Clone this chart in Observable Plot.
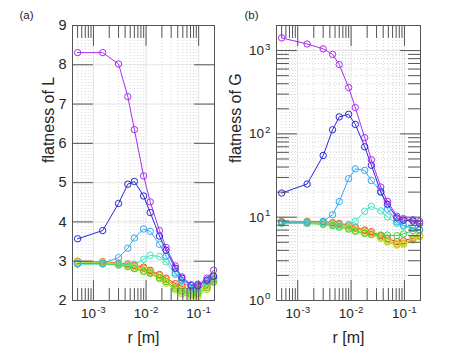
<!DOCTYPE html>
<html><head><meta charset="utf-8">
<script src="https://cdn.jsdelivr.net/npm/d3@7"></script>
<script src="https://cdn.jsdelivr.net/npm/@observablehq/plot@0.6"></script>
<style>
html,body{margin:0;padding:0;background:#fff;}
#wrap{position:relative;width:463px;height:348px;overflow:hidden;}
#wrap svg{position:absolute;left:0;top:0;}
</style>
</head><body><div id="wrap"></div>
<script>
// separation r [m]
const r = [5e-4, 1.5e-3, 3e-3, 4.5e-3, 6e-3, 9e-3, 0.012, 0.018, 0.024, 0.036, 0.048, 0.072, 0.096, 0.144, 0.192];
const seriesNames = ["s1", "s2", "s3", "s4", "s5", "s6", "s7", "s8", "s9"];
const seriesColors = ["#a92df2", "#2727d6", "#33a6f2", "#3de6c2", "#3fd23c", "#a6e01e", "#e8dc1c", "#f6a01e", "#f23c28"];

// panel (a): flatness of L
const L_s1 = [8.31, 8.31, 8.02, 7.19, 6.35, 5.17, 4.51, 3.78, 3.35, 2.88, 2.60, 2.40, 2.41, 2.57, 2.77];
const L_s2 = [3.57, 3.78, 4.47, 4.96, 5.03, 4.66, 4.24, 3.64, 3.28, 2.82, 2.57, 2.38, 2.38, 2.52, 2.62];
const L_s3 = [2.94, 2.95, 3.09, 3.33, 3.59, 3.82, 3.76, 3.43, 3.13, 2.70, 2.52, 2.33, 2.35, 2.49, 2.60];
const L_s4 = [2.93, 2.93, 2.93, 2.91, 2.92, 3.05, 3.15, 3.12, 2.98, 2.66, 2.49, 2.28, 2.30, 2.45, 2.56];
const L_s5 = [2.93, 2.93, 2.90, 2.86, 2.81, 2.74, 2.70, 2.58, 2.48, 2.32, 2.24, 2.16, 2.18, 2.33, 2.48];
const L_s6 = [2.96, 2.95, 2.91, 2.87, 2.82, 2.75, 2.68, 2.55, 2.44, 2.27, 2.17, 2.08, 2.10, 2.28, 2.46];
const L_s7 = [2.98, 2.97, 2.93, 2.89, 2.84, 2.78, 2.71, 2.58, 2.48, 2.31, 2.21, 2.12, 2.14, 2.32, 2.48];
const L_s8 = [2.99, 2.98, 2.94, 2.91, 2.87, 2.82, 2.74, 2.63, 2.53, 2.38, 2.30, 2.20, 2.22, 2.38, 2.52];
const L_s9 = [3.00, 2.99, 2.95, 2.93, 2.90, 2.85, 2.77, 2.66, 2.57, 2.43, 2.36, 2.26, 2.28, 2.42, 2.55];

// panel (b): flatness of G
const G_s1 = [1420, 1200, 1050, 900, 680, 360, 207, 90, 49, 23, 15.5, 10.3, 9.6, 9.3, 8.9];
const G_s2 = [19.5, 25, 55, 112, 160, 172, 130, 70, 42, 20, 14.3, 9.8, 9.2, 9.0, 8.4];
const G_s3 = [8.7, 8.7, 8.9, 10.7, 15.4, 29, 38, 36.5, 27.5, 20.5, 12.5, 8.8, 8.0, 7.3, 7.0];
const G_s4 = [8.4, 8.4, 8.5, 8.2, 8.0, 8.0, 8.9, 11.8, 13.5, 11.9, 10.1, 8.4, 7.8, 7.4, 7.0];
const G_s5 = [8.5, 8.4, 8.2, 7.9, 7.6, 7.2, 6.8, 6.4, 6.2, 6.1, 6.1, 6.0, 6.3, 6.9, 7.1];
const G_s6 = [8.6, 8.5, 8.3, 8.0, 7.8, 7.3, 6.8, 6.4, 6.2, 5.6, 5.1, 4.7, 4.8, 5.4, 5.9];
const G_s7 = [8.7, 8.7, 8.4, 8.2, 8.0, 7.5, 7.0, 6.6, 6.3, 5.6, 5.0, 4.6, 4.7, 5.3, 5.8];
const G_s8 = [8.8, 8.8, 8.6, 8.4, 8.2, 7.8, 7.3, 6.8, 6.5, 5.8, 5.2, 4.8, 4.9, 5.4, 5.9];
const G_s9 = [8.9, 8.9, 8.8, 8.6, 8.4, 8.1, 7.6, 7.0, 6.7, 6.0, 5.5, 5.1, 5.2, 5.6, 6.0];

// tick values
const xMajor = [1e-3, 1e-2, 1e-1];
const xMinor = [5e-4, 6e-4, 7e-4, 8e-4, 9e-4, 2e-3, 3e-3, 4e-3, 5e-3, 6e-3, 7e-3, 8e-3, 9e-3,
  2e-2, 3e-2, 4e-2, 5e-2, 6e-2, 7e-2, 8e-2, 9e-2, 2e-1];
const yMajorL = [2, 3, 4, 5, 6, 7, 8, 9];
const yMajorG = [1, 10, 100, 1000];
const yMinorG = [2,3,4,5,6,7,8,9,20,30,40,50,60,70,80,90,200,300,400,500,600,700,800,900,2000];

const xDomain = [4e-4, 0.2];
const labelA = "flatness of L", labelB = "flatness of G", xLabel = "r [m]";

// lists given red -> purple so purple is drawn last (on top)
function toRows(lists) {
  const names = seriesNames.slice().reverse();
  const rows = [];
  lists.forEach((vals, i) => vals.forEach((v, j) => rows.push({r: r[j], v, s: names[i]})));
  return rows;
}
const rowsL = toRows([L_s9, L_s8, L_s7, L_s6, L_s5, L_s4, L_s3, L_s2, L_s1]);
const rowsG = toRows([G_s9, G_s8, G_s7, G_s6, G_s5, G_s4, G_s3, G_s2, G_s1]);

const tickShape = {draw(ctx, l) { ctx.moveTo(0, 0); ctx.lineTo(0, -l); }};
const FRAME = "#555";
const GRID = "#e2e2e2";
const MINOR = "#d6d6d6";
const FONT = "'Liberation Sans', Arial, Helvetica, sans-serif";

const powFmt = d => "10^" + Math.round(Math.log10(d));

function panel({rows, y, yMajor, yMinor, ml, mr, ylabel, tag, tagDx, yFmt, yFont, yLabelDx}) {
  const [y0, y1] = y.domain;
  const ticks = [];
  const tk = (arr, len, pos) => arr.forEach(v => ticks.push({...pos(v), len}));
  tk(xMajor, 5, v => ({x: v, y: y0, rot: 0}));
  tk(xMinor, 3, v => ({x: v, y: y0, rot: 0}));
  tk(xMajor, 5, v => ({x: v, y: y1, rot: 180}));
  tk(xMinor, 3, v => ({x: v, y: y1, rot: 180}));
  tk(yMajor, 5, v => ({x: xDomain[0], y: v, rot: 90}));
  tk(yMajor, 5, v => ({x: xDomain[1], y: v, rot: -90}));
  if (yMinor) {
    tk(yMinor, 3, v => ({x: xDomain[0], y: v, rot: 90}));
    tk(yMinor, 3, v => ({x: xDomain[1], y: v, rot: -90}));
  }
  const marks = [
    Plot.ruleX(xMinor, {stroke: MINOR, strokeDasharray: "1,2", strokeWidth: 1}),
  ];
  if (yMinor) marks.push(Plot.ruleY(yMinor, {stroke: MINOR, strokeDasharray: "1,2", strokeWidth: 1}));
  marks.push(
    Plot.ruleX(xMajor, {stroke: GRID, strokeWidth: 1}),
    Plot.ruleY(yMajor, {stroke: GRID, strokeWidth: 1}),
    Plot.line(rows, {x: "r", y: "v", z: "s", stroke: "s", strokeWidth: 1}),
    Plot.dot(rows, {x: "r", y: "v", stroke: "s", r: 3.2, fill: "none", strokeWidth: 1}),
    Plot.frame({stroke: FRAME, strokeWidth: 1}),
    Plot.vector(ticks, {x: "x", y: "y", rotate: "rot", length: "len", anchor: "start", shape: tickShape, stroke: FRAME, strokeWidth: 1}),
    Plot.axisX({ticks: xMajor, tickSize: 0, tickPadding: 8, tickFormat: powFmt, fontSize: 13.5, label: null, fill: "#262626"}),
    Plot.axisY({ticks: yMajor, tickSize: 0, tickPadding: 6, tickFormat: yFmt, fontSize: yFont, label: null, fill: "#262626"}),
    Plot.text([xLabel], {frameAnchor: "bottom", dy: 37, fontSize: 16, fill: "#262626", lineAnchor: "middle"}),
    Plot.text([ylabel], {frameAnchor: "left", dx: yLabelDx, rotate: -90, fontSize: 16, fill: "#262626", lineAnchor: "middle"}),
    Plot.text([tag], {frameAnchor: "top-left", dx: tagDx, dy: -10, fontSize: 11.5, fill: "#262626", lineAnchor: "middle", textAnchor: "middle"})
  );
  const svg = Plot.plot({
    width: 463, height: 348,
    marginLeft: ml, marginRight: mr, marginTop: 25, marginBottom: 48,
    x: {type: "log", domain: xDomain},
    y,
    color: {domain: seriesNames, range: seriesColors},
    style: {fontFamily: FONT, background: "none", overflow: "visible"},
    marks
  });
  d3.select(svg).selectAll("text").each(function() {
    const m = /^10\^(-?\d+)$/.exec(this.textContent);
    if (m) {
      this.textContent = "10";
      d3.select(this).append("tspan").attr("dx", "0.1em").attr("dy", "-0.55em").attr("font-size", "0.72em").text(m[1]);
    }
  });
  return svg;
}

const wrap = document.getElementById("wrap");
wrap.appendChild(panel({
  rows: rowsL, y: {domain: [2, 9]}, yMajor: yMajorL, yMinor: null,
  ml: 72, mr: 463 - 214, ylabel: labelA, tag: "(a)", tagDx: -46, yFmt: d => String(d), yFont: 14.5, yLabelDx: -24
}));
wrap.appendChild(panel({
  rows: rowsG, y: {type: "log", domain: [1, 2000]}, yMajor: yMajorG, yMinor: yMinorG,
  ml: 276, mr: 463 - 420, ylabel: labelB, tag: "(b)", tagDx: -25, yFmt: powFmt, yFont: 13.5, yLabelDx: -41
}));
</script></body></html>
